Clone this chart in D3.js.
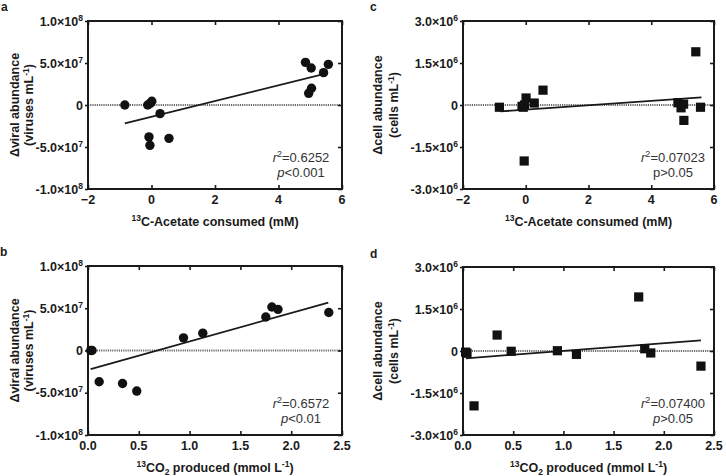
<!DOCTYPE html>
<html><head><meta charset="utf-8">
<script src="https://cdn.jsdelivr.net/npm/d3@7"></script>
<style>
body{margin:0;background:#fff;}
svg{display:block;font-family:"Liberation Sans",Arial,sans-serif;}
</style></head>
<body><svg id="c" width="726" height="476"></svg>
<script>
// ---- data ----
const acetateX = [-0.84,-0.12,-0.04,0.01,0.27,-0.08,-0.05,0.55,4.85,5.03,4.95,5.04,5.42,5.57];
const viralA   = [0,0,0.2e7,0.44e7,-1.03e7,-3.8e7,-4.8e7,-3.97e7,5.08e7,4.4e7,1.39e7,1.99e7,3.85e7,4.84e7];
const cellC    = [-0.08e6,-0.05e6,0.0,0.25e6,0.07e6,-0.08e6,-2.0e6,0.53e6,0.08e6,0.03e6,-0.1e6,-0.55e6,1.9e6,-0.08e6];
const co2X     = [0.026,0.04,0.11,0.34,0.48,0.94,1.13,1.75,1.81,1.87,2.37];
const viralB   = [0,0,-3.7e7,-3.9e7,-4.8e7,1.5e7,2.05e7,3.96e7,5.15e7,4.87e7,4.5e7];
const cellD    = [-0.04e6,-0.08e6,-1.96e6,0.57e6,-0.01e6,0.01e6,-0.12e6,1.93e6,0.08e6,-0.07e6,-0.54e6];
const fitA = [[-0.84,-2.18e7],[5.45,3.7e7]];
const fitB = [[0.026,-2.2e7],[2.365,5.67e7]];
const fitC = [[-0.81,-0.23e6],[5.6,0.27e6]];
const fitD = [[0.03,-0.26e6],[2.37,0.38e6]];
const ticksAcetate = [-2,0,2,4,6];
const ticksCO2 = [0,0.5,1,1.5,2,2.5];
const ticksViral = [1e8,5e7,0,-5e7,-1e8];
const ticksCell = [3e6,1.5e6,0,-1.5e6,-3e6];
const viralLabels = [["1.0×10","8"],["5.0×10","7"],["0",""],["-5.0×10","7"],["-1.0×10","8"]];
const cellLabels = [["3.0×10","6"],["1.5×10","6"],["0",""],["-1.5×10","6"],["-3.0×10","6"]];

const svg = d3.select("#c");
const ink = "#1a1a1a";

function panel(o){
  const g = svg.append("g");
  const x = d3.scaleLinear().domain(o.xd).range([o.l,o.r]);
  const y = d3.scaleLinear().domain(o.yd).range([o.b,o.t]);
  // zero line
  g.append("line").attr("x1",o.l).attr("x2",o.r).attr("y1",y(0)).attr("y2",y(0))
    .attr("stroke","#6a6a6a").attr("stroke-width",2).attr("stroke-dasharray","1.2,1");
  // axes ticks (inward)
  g.append("g").attr("transform",`translate(0,${o.b})`)
    .call(d3.axisBottom(x).tickValues(o.xt).tickSize(-4).tickFormat(""))
    .call(s=>{s.select(".domain").remove();s.selectAll("line").attr("stroke",ink).attr("stroke-width",1.6);});
  g.append("g").attr("transform",`translate(0,${o.t})`)
    .call(d3.axisTop(x).tickValues(o.xt).tickSize(-4).tickFormat(""))
    .call(s=>{s.select(".domain").remove();s.selectAll("line").attr("stroke",ink).attr("stroke-width",1.6);});
  g.append("g").attr("transform",`translate(${o.l},0)`)
    .call(d3.axisLeft(y).tickValues(o.yt).tickSize(3).tickFormat(""))
    .call(s=>{s.select(".domain").remove();s.selectAll("line").attr("stroke",ink).attr("stroke-width",1.6);});
  g.append("g").attr("transform",`translate(${o.r},0)`)
    .call(d3.axisRight(y).tickValues(o.yt).tickSize(-4).tickFormat(""))
    .call(s=>{s.select(".domain").remove();s.selectAll("line").attr("stroke",ink).attr("stroke-width",1.6);});
  // frame
  g.append("rect").attr("x",o.l).attr("y",o.t).attr("width",o.r-o.l).attr("height",o.b-o.t)
    .attr("fill","none").attr("stroke",ink).attr("stroke-width",2);
  // x tick labels
  g.selectAll(".xl").data(o.xt).join("text")
    .attr("x",d=>x(d)).attr("y",o.b+15).attr("text-anchor","middle")
    .attr("font-size",12.5).attr("font-weight","bold").attr("fill",ink)
    .text(d=>o.xfmt(d));
  // y tick labels
  const yl = g.selectAll(".yl").data(o.yt).join("text")
    .attr("x",o.l-5).attr("y",d=>y(d)+4.5).attr("text-anchor","end")
    .attr("font-size",12.5).attr("font-weight","bold").attr("fill",ink);
  yl.append("tspan").text((d,i)=>o.ylab[i][0]);
  yl.append("tspan").attr("dy",-5).attr("font-size",8.5).text((d,i)=>o.ylab[i][1]);
  // fit line
  g.append("path").datum(o.fit)
    .attr("d",d3.line().x(d=>x(d[0])).y(d=>y(d[1])))
    .attr("stroke",ink).attr("stroke-width",1.8).attr("fill","none");
  // points
  const pts = o.xs.map((v,i)=>[v,o.ys[i]]);
  if(o.shape==="circle"){
    g.selectAll(".pt").data(pts).join("circle")
      .attr("cx",d=>x(d[0])).attr("cy",d=>y(d[1])).attr("r",4.7).attr("fill","#111");
  } else {
    g.selectAll(".pt").data(pts).join("rect")
      .attr("x",d=>x(d[0])-4.6).attr("y",d=>y(d[1])-4.6).attr("width",9.2).attr("height",9.2).attr("fill","#111");
  }
  // x title
  const xt = g.append("text").attr("x",(o.l+o.r)/2).attr("y",o.b+37).attr("text-anchor","middle")
    .attr("font-size",12.5).attr("font-weight","bold").attr("fill",ink);
  o.xtitle(xt);
  // y title
  const yt = g.append("g").attr("transform",`translate(${o.ytx},${(o.t+o.b)/2}) rotate(-90)`);
  yt.append("text").attr("x",0).attr("y",0).attr("text-anchor","middle")
    .attr("font-size",12.5).attr("font-weight","bold").attr("fill",ink).text(o.ytitle1);
  const y2 = yt.append("text").attr("x",0).attr("y",o.ytgap).attr("text-anchor","middle")
    .attr("font-size",12.5).attr("font-weight","bold").attr("fill",ink);
  y2.append("tspan").text(o.ytitle2);
  y2.append("tspan").attr("dy",-4).attr("font-size",8.5).text("-1");
  y2.append("tspan").attr("dy",4).text(")");
  // annotation
  const ax = o.r-41;
  const a1 = g.append("text").attr("x",ax).attr("y",o.b-27).attr("text-anchor","middle")
    .attr("font-size",13).attr("fill","#333");
  a1.append("tspan").attr("font-style","italic").text("r");
  a1.append("tspan").attr("dy",-5).attr("font-size",9).text("2");
  a1.append("tspan").attr("dy",5).text("="+o.r2);
  const a2 = g.append("text").attr("x",ax).attr("y",o.b-12).attr("text-anchor","middle")
    .attr("font-size",13).attr("fill","#333");
  a2.append("tspan").attr("font-style",o.pItalic?"italic":"normal").text("p");
  a2.append("tspan").text(o.pval);
  // panel letter
  svg.append("text").attr("x",o.lx).attr("y",o.ly).attr("font-size",12).attr("font-weight","bold")
    .attr("fill",ink).text(o.letter);
}

const acetTitle = t=>{ t.append("tspan").attr("font-size",8.5).attr("dy",-5).text("13");
  t.append("tspan").attr("dy",5).text("C-Acetate consumed (mM)"); };
const co2Title = t=>{ t.append("tspan").attr("font-size",8.5).attr("dy",-5).text("13");
  t.append("tspan").attr("dy",5).text("CO");
  t.append("tspan").attr("font-size",8.5).attr("dy",3).text("2");
  t.append("tspan").attr("dy",-3).text(" produced (mmol L");
  t.append("tspan").attr("font-size",8.5).attr("dy",-5).text("-1");
  t.append("tspan").attr("dy",5).text(")"); };

panel({l:88,r:342,t:21,b:189,xd:[-2,6],yd:[-1e8,1e8],xt:ticksAcetate,yt:ticksViral,
  xfmt:d3.format("d"),ylab:viralLabels,xs:acetateX,ys:viralA,fit:fitA,shape:"circle",
  xtitle:acetTitle,ytx:19,ytgap:14,ytitle1:"Δviral abundance",ytitle2:"(viruses mL",
  r2:"0.6252",pval:"<0.001",pItalic:true,letter:"a",lx:1,ly:11});
panel({l:463,r:714,t:21,b:189,xd:[-2,6],yd:[-3e6,3e6],xt:ticksAcetate,yt:ticksCell,
  xfmt:d3.format("d"),ylab:cellLabels,xs:acetateX,ys:cellC,fit:fitC,shape:"square",
  xtitle:acetTitle,ytx:382,ytgap:16,ytitle1:"Δcell abundance",ytitle2:"(cells mL",
  r2:"0.07023",pval:">0.05",pItalic:false,letter:"c",lx:370,ly:11});
panel({l:88,r:342,t:266,b:435,xd:[0,2.5],yd:[-1e8,1e8],xt:ticksCO2,yt:ticksViral,
  xfmt:d3.format(".1f"),ylab:viralLabels,xs:co2X,ys:viralB,fit:fitB,shape:"circle",
  xtitle:co2Title,ytx:19,ytgap:14,ytitle1:"Δviral abundance",ytitle2:"(viruses mL",
  r2:"0.6572",pval:"<0.01",pItalic:true,letter:"b",lx:0,ly:256});
panel({l:463,r:714,t:267,b:435,xd:[0,2.5],yd:[-3e6,3e6],xt:ticksCO2,yt:ticksCell,
  xfmt:d3.format(".1f"),ylab:cellLabels,xs:co2X,ys:cellD,fit:fitD,shape:"square",
  xtitle:co2Title,ytx:382,ytgap:16,ytitle1:"Δcell abundance",ytitle2:"(cells mL",
  r2:"0.07400",pval:">0.05",pItalic:true,letter:"d",lx:370,ly:258});
</script></body></html>
